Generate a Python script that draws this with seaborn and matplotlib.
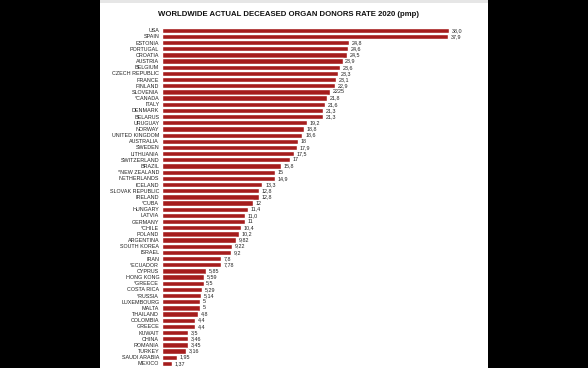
import pandas as pd
import seaborn as sns
import matplotlib.pyplot as plt
from matplotlib.patches import Rectangle

countries = ['USA', 'SPAIN', 'ESTONIA', 'PORTUGAL', 'CROATIA', 'AUSTRIA', 'BELGIUM',
             'CZECH REPUBLIC', 'FRANCE', 'FINLAND', 'SLOVENIA', '*CANADA', 'ITALY',
             'DENMARK', 'BELARUS', 'URUGUAY', 'NORWAY', 'UNITED KINGDOM', 'AUSTRALIA',
             'SWEDEN', 'LITHUANIA', 'SWITZERLAND', 'BRAZIL', '*NEW ZEALAND', 'NETHERLANDS',
             'ICELAND', 'SLOVAK REPUBLIC', 'IRELAND', '*CUBA', 'HUNGARY', 'LATVIA',
             'GERMANY', '*CHILE', 'POLAND', 'ARGENTINA', 'SOUTH KOREA', 'ISRAEL', 'IRAN',
             '*ECUADOR', 'CYPRUS', 'HONG KONG', '*GREECE', 'COSTA RICA', '*RUSSIA',
             'LUXEMBOURG', 'MALTA', 'THAILAND', 'COLOMBIA', 'GREECE', 'KUWAIT', 'CHINA',
             'ROMANIA', 'TURKEY', 'SAUDI ARABIA', 'MEXICO']
rates = [38.0, 37.9, 24.8, 24.6, 24.5, 23.9, 23.6, 23.3, 23.1, 22.9, 22.25, 21.8, 21.6,
         21.3, 21.3, 19.2, 18.8, 18.6, 18.0, 17.9, 17.5, 17.0, 15.8, 15.0, 14.9, 13.3,
         12.8, 12.8, 12.0, 11.4, 11.0, 11.0, 10.4, 10.2, 9.82, 9.22, 9.2, 7.8, 7.78,
         5.85, 5.59, 5.5, 5.29, 5.14, 5.0, 5.0, 4.8, 4.4, 4.4, 3.5, 3.46, 3.45, 3.16,
         1.95, 1.37]
value_labels = ['38,0', '37,9', '24,8', '24,6', '24,5', '23,9', '23,6', '23,3', '23,1',
                '22,9', '2225', '21,8', '21,6', '21,3', '21,3', '19,2', '18,8', '18,6',
                '18', '17,9', '17,5', '17', '15,8', '15', '14,9', '13,3', '12,8', '12,8',
                '12', '11,4', '11,0', '11', '10,4', '10,2', '9,82', '9,22', '9,2', '7,8',
                '7,78', '5,85', '5,59', '5,5', '5,29', '5,14', '5', '5', '4,8', '4,4',
                '4,4', '3,5', '3,46', '3,45', '3,16', '1,95', '1,37']

data = pd.DataFrame({'country': countries, 'rate': rates})

sns.set_style('white')
plt.rcParams['font.family'] = ['Liberation Sans', 'DejaVu Sans']

fig = plt.figure(figsize=(5.88, 3.68), dpi=100, facecolor='black')
# white page between the black side bands
fig.patches.append(Rectangle((100 / 588, 0), 388 / 588, 1, transform=fig.transFigure,
                             facecolor='white', edgecolor='none', zorder=-2))
fig.patches.append(Rectangle((100 / 588, 1 - 3 / 368), 388 / 588, 3 / 368,
                             transform=fig.transFigure, facecolor='#e6e6e6',
                             edgecolor='none', zorder=-1))

ax = fig.add_axes([162 / 588, 1 - 366.5 / 368, 287 / 588, (366.5 - 27.2) / 368])
ax.set_facecolor('none')
sns.barplot(data=data, x='rate', y='country', color='#a51d1d', saturation=1,
            width=0.86, ax=ax)

for i, (v, lab) in enumerate(zip(rates, value_labels)):
    ax.text(v + 0.35, i, lab, va='center', ha='left', fontsize=3.9, color='#222222')

ax.set_xlim(0, 38)
ax.set_ylim(54.5, -0.5)
ax.set_xlabel('')
ax.set_ylabel('')
ax.set_xticks([])
ax.tick_params(axis='y', length=0, pad=2, labelsize=3.9, labelcolor='#222222')
sns.despine(ax=ax, left=True, bottom=True)

fig.text(289 / 588, 1 - 15 / 368, 'WORLDWIDE ACTUAL DECEASED ORGAN DONORS RATE 2020 (pmp)',
         ha='center', va='center', fontsize=5.6, fontweight='bold', color='#111111')

fig.savefig('out.png', dpi=100, facecolor='black')
